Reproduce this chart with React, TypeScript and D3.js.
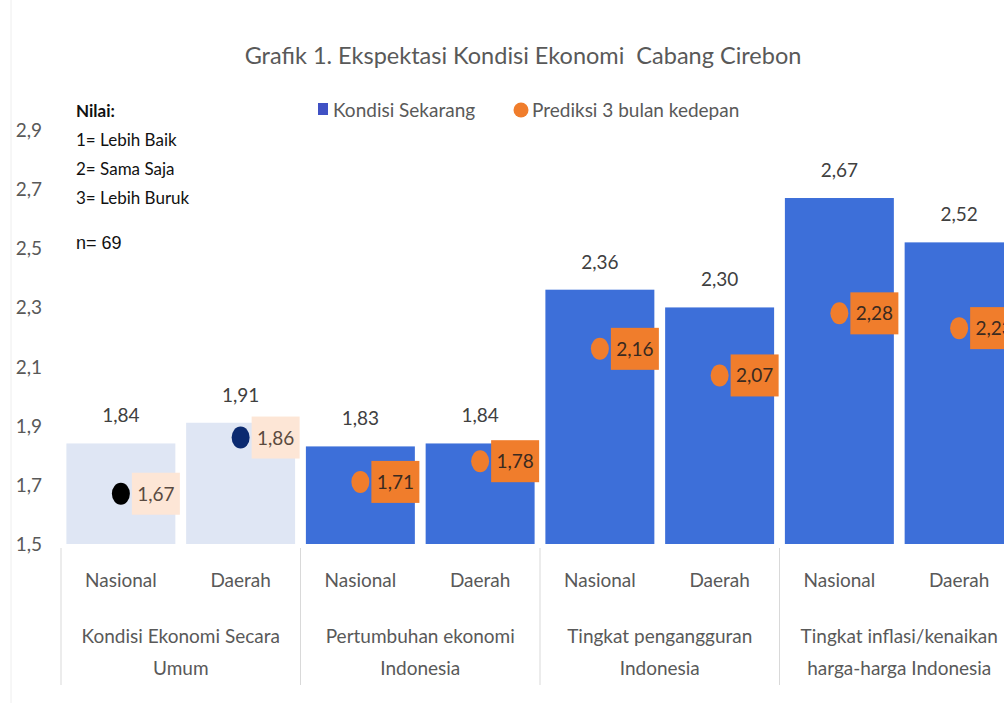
import React from "react";
import * as d3 from "d3";

const regions = ["Nasional", "Daerah"];
const groups = [
  ["Kondisi Ekonomi Secara", "Umum"],
  ["Pertumbuhan ekonomi", "Indonesia"],
  ["Tingkat pengangguran", "Indonesia"],
  ["Tingkat inflasi/kenaikan", "harga-harga Indonesia"],
];
const kondisiSekarang = [1.84, 1.91, 1.83, 1.84, 2.36, 2.3, 2.67, 2.52];
const prediksi = [1.67, 1.86, 1.71, 1.78, 2.16, 2.07, 2.28, 2.23];
const yTicks = [1.5, 1.7, 1.9, 2.1, 2.3, 2.5, 2.7, 2.9];
const notes = ["1= Lebih Baik", "2= Sama Saja", "3= Lebih Buruk"];

const W = 1004;
const H = 703;
const FONT = "Lato, 'Open Sans', sans-serif";
const fmt = (v: number) => d3.format(".2f")(v).replace(".", ",");

export default function App() {
  const idx = d3.range(kondisiSekarang.length);
  const x = d3
    .scaleBand<number>()
    .domain(idx)
    .range([61, 1019])
    .paddingInner(0.09)
    .paddingOuter(0.045);
  const y = d3.scaleLinear().domain([1.5, 2.9]).range([544, 130]);
  const step = x.step();
  const x0 = 61;

  const barFill = (i: number) => (i < 2 ? "#dfe6f4" : "#3d6fd9");
  const dotFill = (i: number) => (i === 0 ? "#000000" : i === 1 ? "#0b2a70" : "#f07d2c");
  const boxFill = (i: number) => (i < 2 ? "#fde6d6" : "#f07d2c");

  return (
    <svg
      width={W}
      height={H}
      style={{ position: "absolute", left: 0, top: 0, background: "#fff" }}
      fontFamily={FONT}
    >
      <line x1={11} x2={11} y1={0} y2={H} stroke="#eeeeee" />

      <text
        x={523}
        y={64}
        textAnchor="middle"
        fontSize={23.5}
        fill="#595959"
        style={{ whiteSpace: "pre" }}
      >
        {"Grafik 1. Ekspektasi Kondisi Ekonomi  Cabang Cirebon"}
      </text>

      {/* legend */}
      <rect x={318} y={103} width={10} height={12} fill="#4051c4" />
      <text x={333} y={117} fontSize={19} fill="#595959">Kondisi Sekarang</text>
      <circle cx={521} cy={110} r={7.5} fill="#f07d2c" />
      <text x={532} y={117} fontSize={19} fill="#595959">Prediksi 3 bulan kedepan</text>

      {/* notes */}
      <text x={76} y={117} fontSize={17} fontWeight="bold" fill="#111">Nilai:</text>
      {notes.map((t, i) => (
        <text key={t} x={76} y={146 + i * 29} fontSize={17} fill="#111">{t}</text>
      ))}
      <text x={76} y={249} fontSize={18} fill="#111" fontFamily="'Liberation Sans', Arial, sans-serif">n= 69</text>

      {/* y ticks */}
      {yTicks.map((t) => (
        <text key={t} x={42} y={y(t) + 7} textAnchor="end" fontSize={19} fill="#595959">
          {d3.format(".1f")(t).replace(".", ",")}
        </text>
      ))}

      {/* bars */}
      {idx.map((i) => (
        <g key={"b" + i}>
          <rect
            x={x(i)}
            y={y(kondisiSekarang[i])}
            width={x.bandwidth()}
            height={y(1.5) - y(kondisiSekarang[i])}
            fill={barFill(i)}
          />
          <text
            x={(x(i) as number) + x.bandwidth() / 2}
            y={y(kondisiSekarang[i]) - 21}
            textAnchor="middle"
            fontSize={19}
            fill="#404040"
          >
            {fmt(kondisiSekarang[i])}
          </text>
        </g>
      ))}

      {/* prediction points */}
      {idx.map((i) => {
        const cx = (x(i) as number) + x.bandwidth() / 2;
        const cy = y(prediksi[i]);
        return (
          <g key={"p" + i}>
            <rect x={cx + 11} y={cy - 21} width={48} height={42} fill={boxFill(i)} />
            <text x={cx + 35} y={cy + 7} textAnchor="middle" fontSize={19} fill={i < 2 ? "#5a4a40" : "#3a2a20"}>
              {fmt(prediksi[i])}
            </text>
            <ellipse cx={cx} cy={cy} rx={9} ry={11} fill={dotFill(i)} />
          </g>
        );
      })}

      {/* category axis */}
      {d3.range(groups.length + 1).map((g) => (
        <line
          key={"s" + g}
          x1={x0 + g * 2 * step}
          x2={x0 + g * 2 * step}
          y1={548}
          y2={685}
          stroke="#d9d9d9"
        />
      ))}
      {idx.map((i) => (
        <text
          key={"r" + i}
          x={(x(i) as number) + x.bandwidth() / 2}
          y={587}
          textAnchor="middle"
          fontSize={19}
          fill="#595959"
        >
          {regions[i % 2]}
        </text>
      ))}
      {groups.map((lines, g) => (
        <g key={"g" + g}>
          {lines.map((t, k) => (
            <text
              key={t}
              x={x0 + g * 2 * step + step}
              y={643 + k * 32}
              textAnchor="middle"
              fontSize={19}
              fill="#595959"
            >
              {t}
            </text>
          ))}
        </g>
      ))}
    </svg>
  );
}
